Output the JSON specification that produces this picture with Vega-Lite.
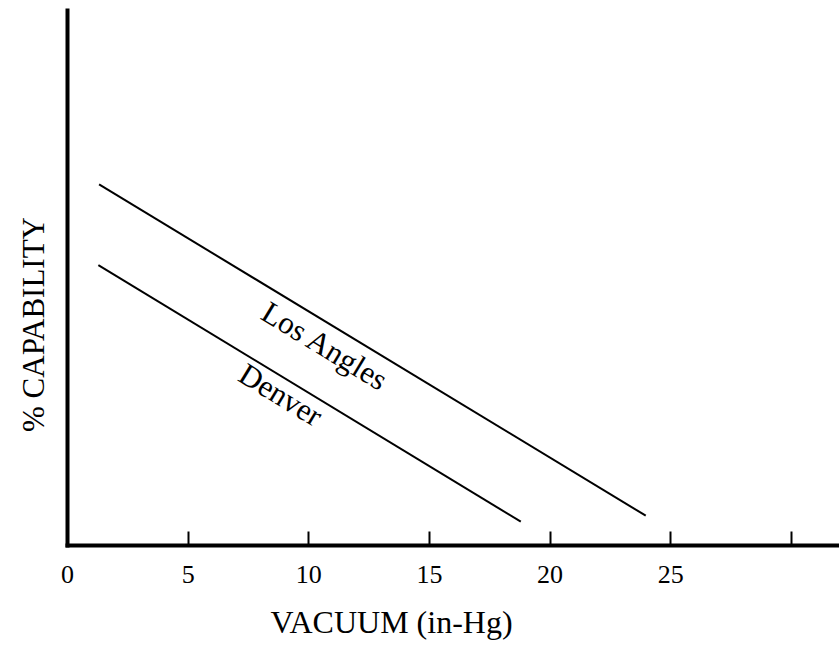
{
  "$schema": "https://vega.github.io/schema/vega-lite/v6.json",
  "width": 772,
  "height": 535,
  "autosize": {"type": "none"},
  "padding": {"left": 67, "top": 10, "right": 0, "bottom": 101},
  "background": "white",
  "config": {
    "view": {"stroke": null},
    "font": "Liberation Serif",
    "axis": {
      "grid": false,
      "domainColor": "black",
      "domainWidth": 4,
      "domainCap": "square",
      "tickColor": "black",
      "labelColor": "black",
      "titleColor": "black",
      "labelFont": "Liberation Serif",
      "titleFont": "Liberation Serif",
      "titleFontWeight": "normal"
    }
  },
  "datasets": {
    "lines": [
      {"city": "Los Angles", "vacuum": 1.33, "capability": 67.4},
      {"city": "Los Angles", "vacuum": 23.99, "capability": 5.48},
      {"city": "Denver", "vacuum": 1.30, "capability": 52.3},
      {"city": "Denver", "vacuum": 18.81, "capability": 4.36}
    ],
    "labels": [
      {"city": "Los Angles", "vacuum": 10.65, "capability": 37.0},
      {"city": "Denver", "vacuum": 8.83, "capability": 27.85}
    ]
  },
  "layer": [
    {
      "data": {"name": "lines"},
      "mark": {"type": "line", "color": "black", "strokeWidth": 2},
      "encoding": {
        "x": {
          "field": "vacuum", "type": "quantitative",
          "scale": {"domain": [0, 32], "nice": false, "zero": false},
          "axis": {
            "title": "VACUUM (in-Hg)",
            "values": [0, 5, 10, 15, 20, 25, 30],
            "labelExpr": "datum.value == 30 ? '' : datum.label",
            "tickSize": -14,
            "tickWidth": 2,
            "labelFontSize": 26,
            "labelPadding": 30,
            "labelFlush": false,
            "titleFontSize": 32,
            "titleX": 324,
            "titleY": 87,
            "titleAlign": "center",
            "titleBaseline": "alphabetic"
          }
        },
        "y": {
          "field": "capability", "type": "quantitative",
          "scale": {"domain": [0, 100], "nice": false, "zero": false},
          "axis": {
            "title": "% CAPABILITY",
            "ticks": false,
            "labels": false,
            "titleFontSize": 31,
            "titleAngle": -90,
            "titleX": -24,
            "titleY": 314,
            "titleAlign": "center",
            "titleBaseline": "alphabetic"
          }
        },
        "detail": {"field": "city"}
      }
    },
    {
      "data": {"name": "labels"},
      "mark": {"type": "text", "angle": 31.3, "fontSize": 31, "font": "Liberation Serif", "color": "black", "align": "center", "baseline": "middle"},
      "encoding": {
        "x": {"field": "vacuum", "type": "quantitative"},
        "y": {"field": "capability", "type": "quantitative"},
        "text": {"field": "city"}
      }
    }
  ]
}
